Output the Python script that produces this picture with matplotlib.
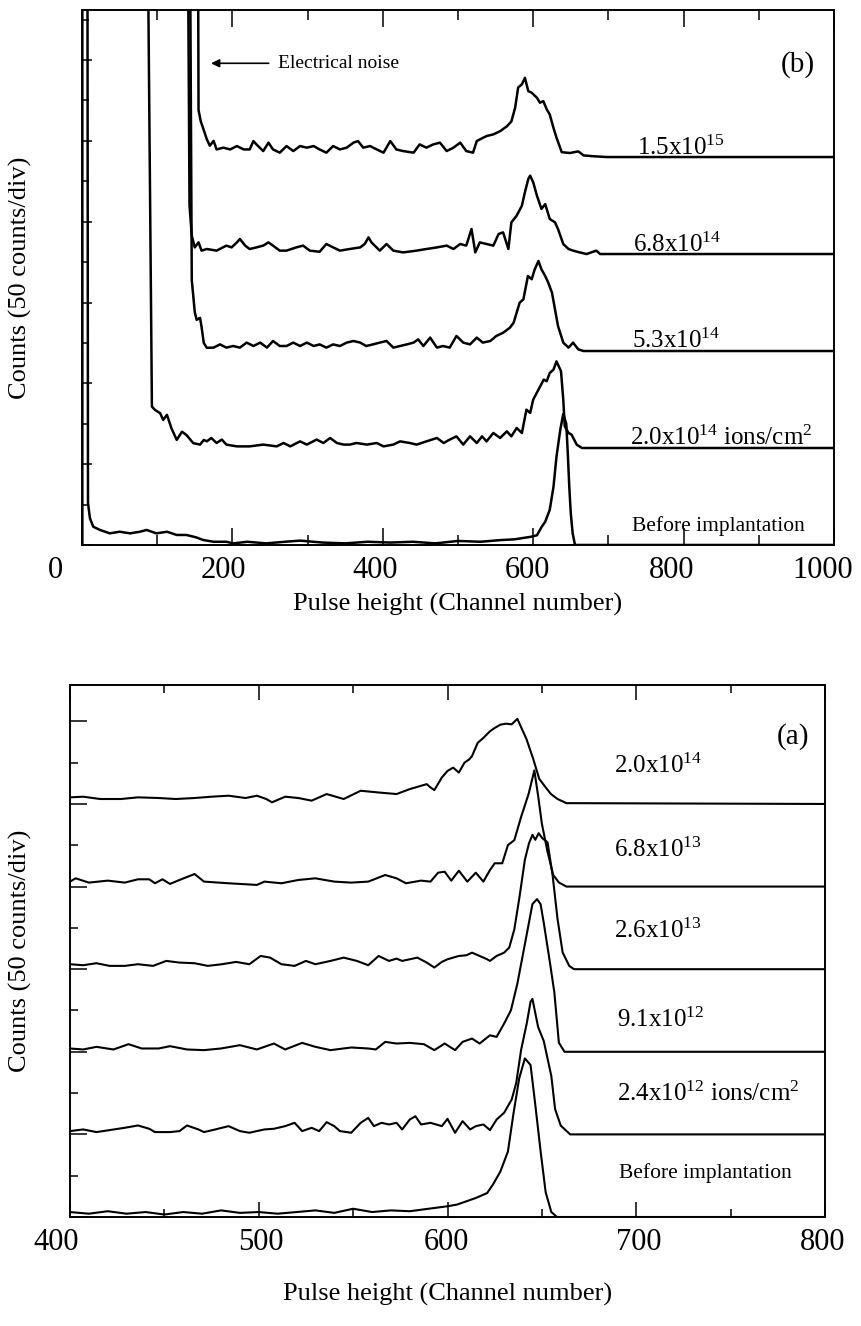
import matplotlib
matplotlib.use("Agg")
import matplotlib.pyplot as plt
import matplotlib.transforms as mtransforms
from matplotlib.ticker import MultipleLocator

plt.rcParams["font.family"] = ["Liberation Serif", "DejaVu Serif"]
plt.rcParams["mathtext.fontset"] = "custom"
plt.rcParams["mathtext.rm"] = "Liberation Serif"
plt.rcParams["mathtext.it"] = "Liberation Serif:italic"
plt.rcParams["mathtext.bf"] = "Liberation Serif:bold"

# ---------------- panel (b): high doses, channel 0-1000 ----------------
# counts above each curve's own baseline; offsets stack the curves
b_offsets = [0, 60, 120, 180, 240]
b_labels = ["Before implantation", r"2.0x10$^{14}$ ions/cm$^{2}$",
            r"5.3x10$^{14}$", r"6.8x10$^{14}$", r"1.5x10$^{15}$"]

b_before_ch = [0.5, 0.5, 7, 8, 10.6, 15, 24, 37, 50, 64, 77, 86, 99, 113, 126, 139, 152, 161,
               175, 192, 201, 220, 245, 270, 290, 320, 350, 380, 410, 440, 470, 500, 530, 556,
               575, 596, 605, 611, 616, 622, 627, 631, 636, 640, 644, 646, 648, 650, 652.5,
               655.6, 660, 1000]
b_before_ct = [0, 500, 500, 26, 16.5, 11.3, 9.3, 7.2, 8.2, 7.2, 8.2, 9.3, 7.2, 8.2, 6.2, 6.2,
               4.7, 3.1, 2, 2, 1, 2, 1, 2, 2.7, 1.5, 1, 2, 1.5, 2, 1, 2.5, 2, 3, 3.5, 5, 6, 11,
               14.4, 21.7, 36, 54.7, 71.2, 81, 75, 57, 36, 19.6, 7.2, 0, 0, 0]

b_2e14_ch = [84, 93, 97, 104, 108, 113, 119, 126, 133, 139, 148, 157, 162, 166, 172, 179, 186,
             192, 206, 223, 241, 259, 268, 277, 290, 299, 312, 321, 330, 339, 348, 356, 365,
             379, 392, 401, 414, 423, 436, 445, 458, 472, 481, 489, 498, 507, 516, 525, 532,
             538, 547, 556, 565, 571, 578, 585, 591, 596, 600, 607, 614, 618, 622, 627, 631,
             637, 640, 642, 647, 651, 658, 665, 1000]
b_2e14_ct = [500, 25.6, 23.6, 21.5, 17.4, 20.5, 12.2, 5, 10.1, 8, 3, 2.1, 5, 4.1, 6.2, 3.1,
             5.2, 2.1, 1, 1, 2.1, 1, 3.1, 1, 4.1, 2.1, 5.2, 3.1, 6.2, 3.1, 2.1, 2.1, 3.1, 2.1,
             3.1, 1, 2.1, 4.1, 3.1, 2.1, 4.1, 6.2, 3.1, 5.2, 7.2, 2.1, 7.2, 3.1, 7.2, 4.1, 9.3,
             6.2, 10.3, 7.2, 12.4, 9.3, 23.7, 21.7, 29.9, 36.1, 42.3, 41.3, 46.4, 48.5, 53.6,
             47.5, 29.9, 13.4, 9.3, 8.3, 2, 0, 0]

b_53e14_ch = [141, 146, 150, 152.5, 157, 159, 162, 166, 175, 183.5, 192, 201, 210, 219, 228,
              237, 246, 254, 263, 272, 281, 290, 299, 308, 316, 325, 334, 343, 352, 361, 370,
              378, 387, 396, 405, 414, 423, 432, 441, 447, 454, 463, 472, 480, 489, 498, 507,
              516, 525, 533, 543, 551, 560, 569, 574, 578, 582, 587, 593, 598, 602, 607, 611,
              616, 620, 625, 629, 633, 640, 647, 653, 660, 667, 1000]
b_53e14_ct = [500, 44, 24, 19.3, 20.5, 15, 4.9, 2, 2.1, 4.1, 2.1, 3.1, 2.1, 5.2, 3.1, 5.2, 2.1,
              6.2, 3.1, 3.1, 5.2, 3.1, 5.2, 3.1, 4.1, 2.1, 4.1, 3.1, 5.2, 6.2, 5.2, 3.1, 4.1,
              5.2, 6.2, 2.1, 3.1, 4.1, 5.2, 7.2, 3.1, 8.3, 2.1, 3.1, 2.1, 9.3, 5.2, 4.1, 8.3,
              5.2, 6.2, 9.3, 11.3, 14.4, 17.5, 23.7, 29.9, 32, 46.4, 44.4, 50.5, 55.7, 50.5,
              46.4, 42.3, 36.1, 25.8, 15.5, 5.2, 2.1, 5.2, 1, 0, 0]

b_68e14_ch = [137, 143, 146, 150, 155, 159, 166, 179, 192, 199, 206, 210, 217, 223, 232, 241,
              248, 254, 263, 272, 285, 294, 303, 316, 325, 334, 343, 356, 370, 376, 381, 385,
              396, 405, 414, 427, 445, 458, 472, 485, 494, 503, 511, 518, 523, 529, 538, 547,
              554, 560, 567, 571, 578, 585, 589, 593.5, 596, 600, 605, 611, 616, 622, 629, 633,
              640, 647, 653, 662, 671, 684, 689, 1000]
b_68e14_ct = [500, 30, 11.3, 4.1, 7.2, 2.1, 3.1, 2.1, 5.2, 4.1, 7.2, 9.3, 5.2, 3.1, 4.1, 5.2,
              7.2, 5.2, 2.1, 2.1, 4.1, 5.2, 2.1, 1.4, 6.2, 4.1, 2.1, 3.1, 4.1, 6.2, 10.3, 7.2,
              2.1, 6.2, 2.1, 1, 2.1, 3.1, 4.1, 5.2, 3.1, 6.2, 5.2, 15.5, 1, 7.2, 6.2, 5.2, 12.4,
              13.4, 3.1, 19.6, 23.7, 29.9, 38.2, 46.4, 48.5, 44.4, 36.1, 27.9, 30.9, 21.7, 19.6,
              15.5, 6.2, 3.1, 2.1, 1, 0, 2.1, 0, 0]

b_15e15_ch = [152, 155, 158, 161, 166, 170, 175, 179, 188, 197, 206, 215, 223, 228, 232, 241,
              248, 254, 263, 272, 281, 290, 299, 308, 316, 325, 334, 343, 352, 361, 367, 374,
              383, 392, 401, 410, 418, 427, 441, 449, 458, 467, 476, 485, 494, 503, 511, 520,
              525, 529, 538, 547, 556, 565, 571, 576, 580, 585, 589, 593.5, 598, 605, 609,
              613.5, 618, 622, 627, 631, 638, 649, 660, 667, 680, 698, 1000]
b_15e15_ct = [500, 29, 22, 18, 11, 7, 10, 4.7, 5.8, 4.7, 6.8, 4.7, 4.7, 9.9, 7.8, 3.7, 8.9,
              4.7, 2.7, 6.8, 3.7, 6.8, 5.8, 6.8, 4.7, 2.7, 6.8, 4.7, 5.8, 8.9, 9.9, 5.8, 6.8,
              4.7, 2.7, 9.9, 4.7, 3.7, 2.7, 7.8, 5.8, 7.8, 8.9, 3.7, 5.8, 8.9, 3.7, 2.7, 9.9,
              10.9, 13, 14, 16, 19, 22, 30.5, 43, 45, 49, 40.8, 39.8, 36.7, 33.6, 34.6, 29.5,
              26.4, 18, 12, 3, 2.5, 3.5, 1, 0.5, 0, 0]

# label anchors (channel, counts) for panel (b)
b_label_x = [731, 729, 731, 733, 738]
b_label_y = [8.7, 62, 122, 181.5, 241]
b_xticks = [0, 200, 400, 600, 800, 1000]

# ---------------- panel (a): low doses, channel 400-800 ----------------
a_offsets = [0, 50, 100, 150, 200, 250]
a_labels = ["Before implantation", r"2.4x10$^{12}$ ions/cm$^{2}$", r"9.1x10$^{12}$",
            r"2.6x10$^{13}$", r"6.8x10$^{13}$", r"2.0x10$^{14}$"]

a_before_ch = [400, 410, 420, 430, 440, 450, 460, 470, 480, 490, 500, 510, 520, 530, 540, 550,
               560, 570, 580, 590, 600, 605, 610, 615, 621, 624, 628, 632, 635, 638, 641, 644,
               646.5, 649.4, 652, 655, 658, 800]
a_before_ct = [3, 2, 3.5, 2, 3, 1.5, 3, 2, 4, 2.5, 3, 2, 3, 4, 2.5, 5, 3, 4, 3.5, 5, 6.5, 7.5,
               9.5, 11.5, 14.5, 19.5, 27.5, 39.6, 63, 84, 96, 92, 68, 39, 15, 3, 0, 0]

a_24e12_ch = [400, 407, 414, 421, 429, 436, 442, 445, 453, 458, 462, 468, 471, 477, 484, 490,
              495, 503, 508, 514, 519, 523, 528, 532, 536, 540, 543, 549, 554, 558, 561, 565,
              569, 573, 576, 580, 583, 586, 591, 597, 600, 604, 608, 612, 615, 619, 622.5, 626,
              630, 634, 636.4, 639, 642, 644, 645, 648, 651, 655, 657, 660, 665, 800]
a_24e12_ct = [2, 3, 1.4, 2.6, 4, 5.4, 3.4, 1.4, 1.4, 2, 5.4, 3, 1.4, 3, 5, 2, 1, 3, 3.4, 5, 7,
              2, 4, 2, 7.4, 5, 2, 1, 7, 10, 5, 7, 6, 7, 3, 9, 11, 6, 7, 5, 9.4, 1, 8, 3, 5, 6,
              2.6, 9, 13.1, 21.1, 31.1, 51.2, 67.3, 80.3, 82, 65, 56.5, 35.3, 15.3, 5.3, 0, 0]

a_91e12_ch = [400, 407, 414, 423, 431, 438, 447, 453, 462, 471, 480, 490, 499, 508, 514, 523,
              530, 538, 549, 558, 562, 567, 573, 580, 587.5, 593, 598.5, 604, 608, 613, 617,
              622.5, 626, 630, 633.6, 637, 640, 643, 645, 647.4, 649.3, 651, 654, 656.6, 659,
              662, 800]
a_91e12_ct = [2, 1.4, 3, 1.4, 4.6, 2, 2, 3.4, 1.4, 1, 2, 4, 1.4, 5, 1.4, 5.4, 3, 1, 2.6, 2,
              1.4, 6, 5, 5.4, 4.6, 1, 5, 1, 6, 8, 5, 10, 9, 17.1, 25.1, 41.2, 59.2, 77.3, 89.4,
              92.4, 89.4, 78, 56, 36, 5.5, 0, 0]

a_26e13_ch = [400, 407, 414, 421, 429, 436, 444, 451, 458, 466, 473, 480.5, 488, 495, 501,
              506, 512, 519, 525, 530, 538, 545, 552, 558, 563.5, 569, 573, 576, 584, 589, 593,
              597, 600, 606, 610, 613, 617, 621, 622.5, 626, 630, 632.7, 635.4, 638.2, 641,
              643.2, 645, 646.5, 648.3, 650.2, 653, 655.7, 658.3, 661, 664.5, 667, 800]
a_26e13_ct = [3, 2.4, 3.6, 2, 2, 3, 2, 5, 4, 3.6, 2, 3, 4.4, 3, 8, 7, 3, 2, 5, 3, 5, 7, 5,
              2.4, 8, 5, 6.4, 5, 7, 4, 1, 4.4, 6, 8, 8.4, 10, 8, 6, 5, 8, 10, 13.1, 24.1, 44.2,
              66.3, 76.3, 81.3, 78.3, 82.3, 79.3, 76.8, 56.6, 30.3, 10.1, 2, 0, 0]

a_68e13_ch = [400, 403, 410, 420, 429, 436, 442, 445, 449, 453, 458, 466, 471, 484, 499, 503,
              512, 521, 530, 540, 549, 558, 567, 573, 578, 586, 591, 595, 598.5, 602, 606,
              610.5, 615, 619, 622.5, 625, 629, 632, 635.4, 639, 643, 646, 648, 650, 653, 656,
              659, 663, 800]
a_68e13_ct = [3, 5, 2.4, 3.6, 2.4, 4.4, 4.4, 2, 4.4, 1.6, 4, 7.6, 3, 2, 1, 3, 2, 4, 5, 3,
              2.4, 3, 7, 5, 2, 3.6, 3, 8.4, 9, 3.6, 9.6, 3, 8.4, 3, 10, 14.1, 14.1, 25.1, 28.1,
              42.2, 56.2, 70.3, 55, 38, 21, 7, 2.5, 0, 0]

a_2e14_ch = [400, 407, 416, 427, 436, 447, 456, 466, 475, 484, 493, 499, 504, 507, 514, 521,
             528, 536, 545, 554, 563, 573, 580, 586, 589, 591, 593, 597, 600, 603, 606, 609,
             611.5, 613, 616, 619, 622.5, 625, 628, 631, 634, 637, 641.8, 645.4, 648.6, 651.3,
             654.8, 658.3, 663, 800]
a_2e14_ct = [4, 4.4, 3, 3, 4, 3.6, 3, 3.6, 4.4, 5, 3.6, 5, 3, 1, 4.4, 3.6, 2, 6, 3, 8, 7, 6,
             9, 11, 12, 10, 8.4, 16, 20, 22, 19, 25, 27, 29, 37, 40, 44, 46, 48, 48.6, 48.2,
             51.5, 39.4, 27.3, 15.2, 11.1, 6, 3, 0.5, 0]

a_label_x = [691, 690, 690, 688, 688, 688]
a_label_y = [23.6, 70, 115, 169, 218, 269]
a_xticks = [400, 500, 600, 700, 800]

b_series = [(b_before_ch, b_before_ct), (b_2e14_ch, b_2e14_ct), (b_53e14_ch, b_53e14_ct),
            (b_68e14_ch, b_68e14_ct), (b_15e15_ch, b_15e15_ct)]
a_series = [(a_before_ch, a_before_ct), (a_24e12_ch, a_24e12_ct), (a_91e12_ch, a_91e12_ct),
            (a_26e13_ch, a_26e13_ct), (a_68e13_ch, a_68e13_ct), (a_2e14_ch, a_2e14_ct)]


def _style(ax, ticks, xmin, long_y, short_y, long_x, short_x, shifts):
    ax.set_xticks(ticks, [str(t) for t in ticks])
    ax.xaxis.set_minor_locator(MultipleLocator(xmin))
    ax.yaxis.set_major_locator(MultipleLocator(50))
    ax.yaxis.set_minor_locator(MultipleLocator(25))
    ax.tick_params(axis="x", which="major", direction="in", top=True, bottom=True,
                   length=long_x, width=1.1, labelsize=22, pad=8)
    ax.tick_params(axis="x", which="minor", direction="in", top=True, bottom=True,
                   length=short_x, width=1.1)
    ax.tick_params(axis="y", which="major", direction="in", left=True, right=False,
                   length=long_y, width=1.1, labelleft=False)
    ax.tick_params(axis="y", which="minor", direction="in", left=True, right=False,
                   length=short_y, width=1.1)
    for s in ax.spines.values():
        s.set_linewidth(1.4)
    # the printed labels sit a little left of their ticks
    for lab, dx in zip(ax.get_xticklabels(), shifts):
        lab.set_transform(lab.get_transform() +
                          mtransforms.ScaledTranslation(dx / 100, 0, fig.dpi_scale_trans))


fig = plt.figure(figsize=(8.62, 13.26), dpi=100)

# panel (b)
axb = fig.add_axes([0.0951, 0.589, 0.8724, 0.4035])
for (ch, ct), off in zip(b_series, b_offsets):
    axb.plot(ch, [c + off for c in ct], color="k", lw=1.8)
axb.set_xlim(0, 1000)
axb.set_ylim(0, 331)
_style(axb, b_xticks, 100, 7.5, 5, 12, 7, [-27, -9, -8, -6, -12, -11])
for lab, x, y in zip(b_labels, b_label_x, b_label_y):
    fs = 15.5 if lab.startswith("Before") else 18
    axb.text(x, y, lab, fontsize=fs, ha="left", va="baseline")
axb.text(952, 297, "(b)", fontsize=21, ha="center", va="center")
axb.annotate("", xy=(168, 298), xytext=(252, 298),
             arrowprops=dict(arrowstyle="-|>", color="k", lw=1.2, mutation_scale=12))
axb.text(261, 298, "Electrical noise", fontsize=14, ha="left", va="center")
axb.set_xlabel("Pulse height (Channel number)", fontsize=19)
axb.xaxis.set_label_coords(0.5, -0.09)
axb.xaxis.label.set_va("top")
axb.set_ylabel("Counts (50 counts/div)", fontsize=19)
axb.yaxis.set_label_coords(-0.0665, 0.5)

# panel (a)
axa = fig.add_axes([0.0812, 0.0822, 0.8759, 0.4012])
for (ch, ct), off in zip(a_series, a_offsets):
    axa.plot(ch, [c + off for c in ct], color="k", lw=1.5)
axa.set_xlim(400, 800)
axa.set_ylim(0, 322)
_style(axa, a_xticks, 50, 12, 6, 11, 6, [-14, 2, -1, 2, -2])
for lab, x, y in zip(a_labels, a_label_x, a_label_y):
    fs = 15.5 if lab.startswith("Before") else 18
    axa.text(x, y, lab, fontsize=fs, ha="left", va="baseline")
axa.text(783, 291, "(a)", fontsize=21, ha="center", va="center")
axa.set_xlabel("Pulse height (Channel number)", fontsize=19)
axa.xaxis.set_label_coords(0.5, -0.124)
axa.xaxis.label.set_va("top")
axa.set_ylabel("Counts (50 counts/div)", fontsize=19)
axa.yaxis.set_label_coords(-0.050, 0.5)

fig.savefig("out.png", dpi=100)
